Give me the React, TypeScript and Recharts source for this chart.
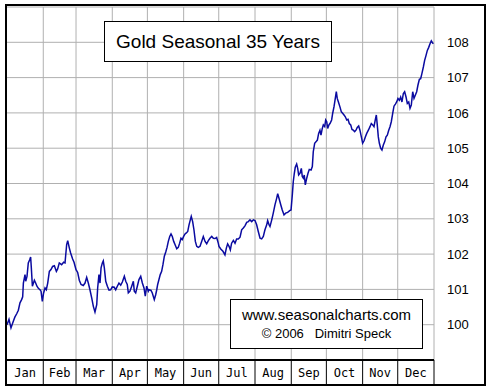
import { LineChart, Line, XAxis, YAxis, CartesianGrid, ReferenceLine } from 'recharts';

// day of year for each reading
const days = [
  0, 1.7, 3.4, 5.4, 6.8, 8.3, 9.7, 11.1, 12.5, 13.4, 14, 15.4, 16, 17.1, 18.2, 19.4, 20.2, 20.8, 21.7, 23.4,
  24.5, 25.6, 26.8, 28.2, 29.1, 30.2, 31.3, 32.5, 33.6, 34.8, 36.2, 37.6, 39, 40.5, 42.2, 43.3, 44.7, 46.7, 48.4, 49.6,
  50.1, 51, 51.9, 53.3, 54.4, 56.1, 57.3, 59, 60.4, 61.8,
  63.3, 65.2, 66.7, 68.1, 69.5, 70.9, 72.4, 73.8, 75.2, 76.7, 77.5, 78.6, 79.5, 80.4, 81.5, 82.3, 83.2, 84.4, 85.8, 87.2,
  88.6, 90, 91.7, 92.9, 94.3, 95.7, 97.2, 98.6, 100.3, 101.5, 102.8, 103.7, 105.1, 106.6, 108, 108.8, 110, 111.4, 112.8, 114.3,
  115.7, 117.1, 118.2, 119.4, 120.8,
  121.4, 123.1, 124.2, 125.9, 127.1, 128, 128.8, 129.9, 131, 132.2, 133.3, 134.5, 135.7, 136.8, 137.9, 139.1, 140.2, 141.3, 142.5, 143.6,
  145.1, 146.4, 147.6, 148.7, 149.8, 151, 152.2, 153.3, 154.5, 155.6, 156.7, 157.5, 158.7, 159.8, 161, 162.2, 163.5, 165, 166.4, 167.8,
  169.3, 170.7, 172.1, 173.5, 175, 176.4, 177.8, 179.2, 180.6,
  181.2, 182.9, 184.6, 186.3, 187.5, 188.6, 189.8, 190.9, 192, 193.5, 194.9, 196.3, 197.7, 199.2, 200.6, 202, 203.4, 204.9, 206.3, 207.7,
  209.2, 210.6, 212, 213.4, 214.8, 216.3, 217.7, 219.1, 220.5, 222, 222.8, 224, 224.8, 226.3, 227.6, 229.1, 230.5, 231.4, 232.5, 234,
  235.3, 236.8, 238.2, 239.9, 241.6, 242.8, 243.9, 244.7, 245.6,
  246.4, 247.6, 248.5, 249.3, 250.5, 251.6, 252.4, 253.3, 254.1, 255, 256.2, 257.3, 258.4, 259.9, 261, 261.8, 263, 264.1, 265.3, 266.4,
  267.5, 268.4, 269.5, 270.4, 271.6, 272.4, 273.3, 274.1, 275.2, 276.1, 277.5, 278.4, 279.5, 280.4, 281.5, 282.3, 283.5, 284.6, 285.8, 286.9,
  288.1, 289.2, 290.4, 291.5, 292.6, 293.8, 294.9, 296, 297.2, 298.3, 299.4, 300.6, 301.7, 302.9, 304, 305.2,
  306.3, 307.5, 308.9, 310.3, 311.4, 312.6, 313.7, 314.8, 315.7, 316.5, 317.4, 318.3, 319.4, 320.5, 321.7, 322.8, 324, 325.1, 326.3, 327.4,
  328.5, 329.7, 330.8, 332, 333.1, 334.2, 335.4, 336.5, 337.6, 338.8, 339.9, 341.1, 342.2, 343.4, 344.5, 345.6, 346.8, 347.9, 349, 350.2,
  351.3, 352.5, 353.6, 354.7, 355.9, 357, 358.2, 359.3, 360.4, 361.6, 362.7, 363.8, 364.5,
];

const gold = [
  100.0, 100.15, 99.91, 100.1, 100.22, 100.31, 100.41, 100.62, 100.71, 100.79, 101.18, 101.42, 101.23, 101.37, 101.75, 101.84, 101.92, 101.61, 101.09, 101.26,
  101.18, 101.09, 101.03, 100.99, 100.95, 100.66, 100.9, 101.04, 100.99, 101.18, 101.51, 101.56, 101.65, 101.67, 101.51, 101.58, 101.75, 101.7, 101.77, 101.75,
  101.94, 102.27, 102.38, 102.17, 102.03, 101.86, 101.77, 101.56, 101.48, 101.26,
  101.14, 101.11, 101.18, 101.34, 101.18, 100.99, 100.76, 100.52, 100.36, 100.57, 101.04, 101.42, 101.18, 101.61, 101.75, 101.81, 101.61, 101.23, 101.09, 100.98,
  100.99, 101.07, 101.06, 100.99, 101.09, 101.18, 101.12, 101.21, 101.37, 101.23, 101.14, 100.9, 100.95, 101.09, 101.23, 100.95, 100.9, 101.09, 101.28, 101.37,
  101.18, 101.04, 100.81, 101.09, 100.95,
  100.99, 100.97, 100.9, 100.71, 100.85, 100.99, 101.14, 101.28, 101.42, 101.51, 101.7, 101.94, 102.06, 102.19, 102.36, 102.5, 102.57, 102.5, 102.36, 102.27,
  102.15, 102.19, 102.31, 102.45, 102.41, 102.5, 102.57, 102.6, 102.64, 102.83, 102.97, 103.07, 102.92, 102.69, 102.36, 102.22, 102.19, 102.22, 102.36, 102.5,
  102.36, 102.29, 102.38, 102.45, 102.5, 102.45, 102.44, 102.47, 102.31,
  102.22, 102.14, 102.08, 101.98, 102.17, 102.29, 102.22, 102.12, 102.31, 102.39, 102.31, 102.43, 102.43, 102.48, 102.69, 102.74, 102.8, 102.9, 102.92, 102.97,
  102.92, 102.97, 102.95, 102.83, 102.64, 102.45, 102.43, 102.5, 102.69, 102.83, 102.95, 102.83, 102.78, 102.97, 103.16, 103.4, 103.58, 103.71, 103.58, 103.4,
  103.25, 103.11, 103.16, 103.18, 103.23, 103.25, 103.68, 104.05, 104.29,
  104.46, 104.55, 104.43, 104.24, 104.29, 104.43, 104.2, 104.15, 104.24, 103.96, 104.15, 104.29, 104.4, 104.38, 104.48, 104.9, 105.14, 105.18, 105.23, 105.42,
  105.51, 105.37, 105.56, 105.66, 105.61, 105.8, 105.75, 105.56, 105.66, 105.7, 105.8, 105.99, 106.17, 106.36, 106.6, 106.41, 106.29, 106.17, 106.03, 105.99,
  105.94, 105.89, 105.8, 105.82, 105.7, 105.66, 105.53, 105.51, 105.47, 105.51, 105.59, 105.63, 105.51, 105.32, 105.14, 105.21,
  105.32, 105.42, 105.51, 105.61, 105.7, 105.66, 105.61, 105.8, 105.94, 105.66, 105.32, 105.14, 105.0, 104.95, 105.09, 105.18, 105.32, 105.37, 105.51, 105.61,
  105.75, 105.99, 106.19, 106.25, 106.31, 106.41, 106.36, 106.45, 106.31, 106.55, 106.6, 106.45, 106.27, 106.31, 106.13, 106.22, 106.6, 106.41, 106.5, 106.6,
  106.79, 106.95, 106.97, 107.12, 107.3, 107.49, 107.63, 107.77, 107.85, 107.96, 108.04, 107.98, 107.96,
];

const months = ['Jan', 'Feb', 'Mar', 'Apr', 'May', 'Jun', 'Jul', 'Aug', 'Sep', 'Oct', 'Nov', 'Dec'];
const monthStarts = [0, 31, 59, 90, 120, 151, 181, 212, 243, 273, 304, 334, 365];
const yTicks = [100, 101, 102, 103, 104, 105, 106, 107, 108];

const data = days.map((d, i) => ({ day: d, value: gold[i] }));
const boundaries = monthStarts.slice(1);
const mids = months.map((_, i) => (monthStarts[i] + monthStarts[i + 1]) / 2);
const xTicks = [...boundaries, ...mids].sort((a, b) => a - b);

function MonthTick(props: any) {
  const { x, y, payload } = props;
  const v = payload.value;
  if (boundaries.includes(v)) {
    return <line x1={x} x2={x} y1={y} y2={y + 25} stroke="#000" strokeWidth={1} />;
  }
  const idx = mids.indexOf(v);
  return (
    <text x={x} y={y + 13} textAnchor="middle" dominantBaseline="central"
      fontFamily="DejaVu Sans Mono" fontSize={12} fill="#000">
      {months[idx]}
    </text>
  );
}

export default function App() {
  return (
    <div style={{ position: 'absolute', left: 0, top: 0, width: 491, height: 387, background: '#fff' }}>
      <LineChart width={491} height={387} data={data} margin={{ top: 7, right: 5, left: 7, bottom: 2 }}>
        <CartesianGrid vertical={false} stroke="#b0b0b0" />
        {boundaries.map((b) => (
          <ReferenceLine key={b} x={b} stroke="#b0b0b0" />
        ))}
        <XAxis
          dataKey="day"
          type="number"
          domain={[0, 365]}
          ticks={xTicks}
          interval={0}
          height={25}
          tickSize={0}
          tickMargin={0}
          tickLine={false}
          axisLine={{ stroke: '#000', strokeWidth: 2 }}
          tick={<MonthTick />}
        />
        <YAxis
          orientation="right"
          domain={[99, 109]}
          ticks={yTicks}
          width={52}
          tickSize={0}
          tickMargin={13}
          tickLine={false}
          axisLine={false}
          tick={{ fill: '#000', fontSize: 13, fontFamily: 'Liberation Sans' }}
        />
        <Line
          type="linear"
          dataKey="value"
          stroke="#0a0aa0"
          strokeWidth={1.5}
          dot={false}
          isAnimationActive={false}
        />
      </LineChart>
      <div style={{
        position: 'absolute', left: 104, top: 21, width: 228, height: 41, boxSizing: 'border-box',
        border: '1px solid #000', background: '#fff', fontFamily: 'Liberation Sans', fontSize: 19,
        display: 'flex', alignItems: 'center', justifyContent: 'center',
      }}>
        Gold Seasonal 35 Years
      </div>
      <div style={{
        position: 'absolute', left: 230, top: 299, width: 193, height: 50, boxSizing: 'border-box',
        border: '1px solid #000', background: '#fff', fontFamily: 'Liberation Sans', textAlign: 'center',
      }}>
        <div style={{ position: 'absolute', left: 0, right: 0, top: 6, fontSize: 15, lineHeight: '18px' }}>
          www.seasonalcharts.com
        </div>
        <div style={{ position: 'absolute', left: 0, right: 0, top: 26, fontSize: 13, lineHeight: '16px', whiteSpace: 'pre' }}>
          {'© 2006   Dimitri Speck'}
        </div>
      </div>
      <div style={{
        position: 'absolute', left: 5, top: 4, width: 481, height: 382, boxSizing: 'border-box',
        border: '2px solid #000', pointerEvents: 'none',
      }} />
    </div>
  );
}
